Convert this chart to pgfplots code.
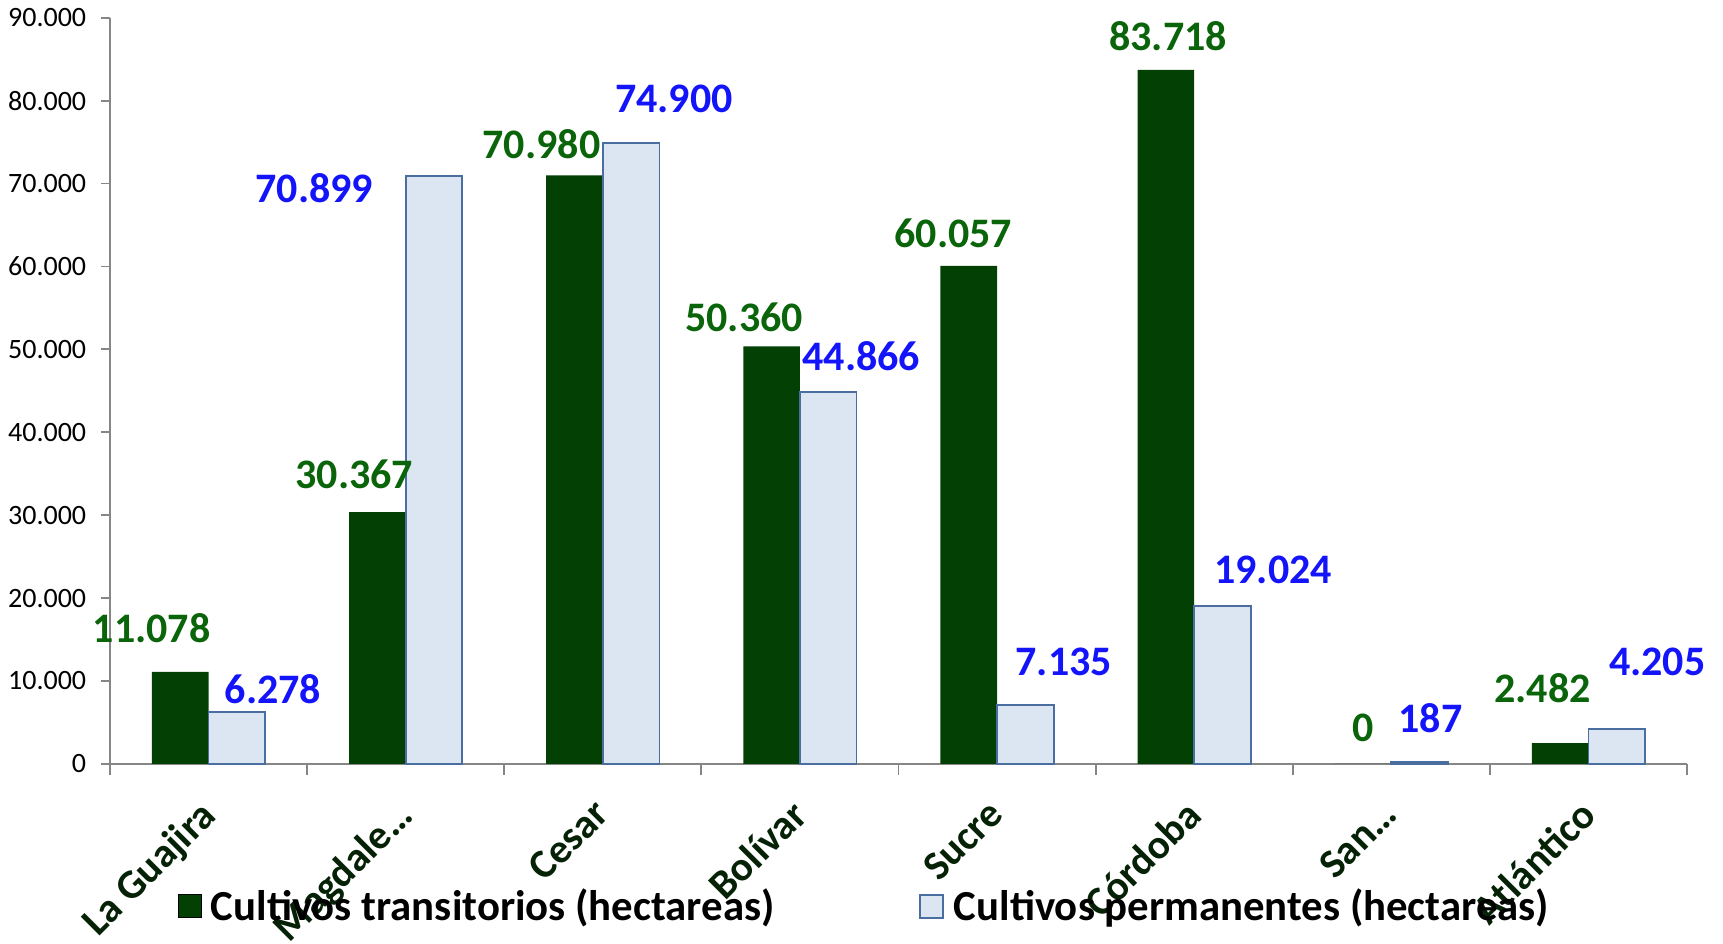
\documentclass[border=0pt]{standalone}
\usepackage{fontspec}
\setmainfont{Carlito}
\usepackage{pgfplots}
\pgfplotsset{compat=1.18}
\usepackage{pgfplotstable}

\definecolor{barverde}{RGB}{3,64,3}
\definecolor{barazul}{RGB}{220,230,242}
\definecolor{bordeazul}{RGB}{74,110,160}
\definecolor{etqverde}{RGB}{10,100,10}
\definecolor{etqazul}{RGB}{20,20,250}
\definecolor{catcol}{RGB}{6,34,6}
\definecolor{ejegris}{RGB}{134,134,134}

% x, valor, desplazamiento de la etiqueta (pt)
\pgfplotstableread{
x y dx dy
0 11078 -14.3 22
1 30367 -11.5 18.7
2 70980 -16.5 15.4
3 50360 -13.7 14.3
4 60057 -7.7 16.5
5 83718 1.1 17
6 0 0 18.1
7 2482 -8.8 27.5
}\transitorios

\pgfplotstableread{
x y dx dy
0 6278 18.1 11.5
1 70899 -59.8 -6
2 74900 21.4 22
3 44866 16.5 18.1
4 7135 19.2 21.4
5 19024 25.3 18.1
6 187 5.5 22
7 4205 20.3 33.5
}\permanentes

\begin{document}
\begin{tikzpicture}
\useasboundingbox (0,0) rectangle (861.5pt,471.5pt);
\begin{axis}[
    at={(55pt,89.6pt)}, anchor=south west,
    width=788.5pt, height=373pt, scale only axis,
    ybar=0pt, bar width=28.3pt,
    xmin=-0.5, xmax=7.5,
    ymin=0, ymax=90000,
    ytick={0,10000,...,90000},
    scaled y ticks=false,
    xtick={0,...,7},
    xticklabels={La Guajira,Magdale\dots,Cesar,Bolívar,Sucre,Córdoba,San\dots,Atlántico},
    minor xtick={-0.5,0.5,...,7.5},
    axis x line=bottom, axis y line=left,
    axis line style={-, ejegris, line width=0.9pt},
    tick align=outside,
    major tick length=4.4pt, minor tick length=5.5pt,
    major x tick style={draw=none},
    minor x tick style={ejegris, line width=0.9pt},
    y tick style={ejegris, line width=0.9pt},
    /pgf/number format/assume math mode=true,
    /pgf/number format/1000 sep={.},
    yticklabel style={font=\fontsize{14}{16}\selectfont, black, xshift=-4pt},
    xticklabel style={font=\fontsize{20.5}{24}\selectfont\bfseries, text=catcol,
        rotate=45, anchor=north east, inner sep=0pt, yshift=-4.8pt, xshift=-12.5pt},
    point meta=y,
    legend columns=2,
    legend style={at={(0.479,-0.191)}, anchor=center, draw=none, fill=none,
        font=\fontsize{21.4}{25}\selectfont\bfseries,
        /tikz/every even column/.append style={column sep=70.3pt}},
    legend image code/.code={\draw[#1] (0pt,-5.75pt) rectangle (11.5pt,5.75pt);
        \path (14.5pt,0pt);},
    clip=false,
]
\addplot[fill=barverde, draw=none,
    visualization depends on={\thisrow{dx}\as\ddx},
    visualization depends on={\thisrow{dy}\as\ddy},
    nodes near coords,
    nodes near coords style={text=etqverde, anchor=center, xshift=\ddx pt, yshift=\ddy pt,
        font=\fontsize{21}{25}\selectfont\bfseries}]
    table[x=x, y=y] {\transitorios};
\addplot[fill=barazul, draw=bordeazul, line width=0.9pt,
    visualization depends on={\thisrow{dx}\as\ddx},
    visualization depends on={\thisrow{dy}\as\ddy},
    nodes near coords,
    nodes near coords style={text=etqazul, anchor=center, xshift=\ddx pt, yshift=\ddy pt,
        font=\fontsize{21}{25}\selectfont\bfseries}]
    table[x=x, y=y] {\permanentes};
\legend{Cultivos transitorios (hectareas), Cultivos permanentes (hectareas)}
\end{axis}
\end{tikzpicture}
\end{document}
